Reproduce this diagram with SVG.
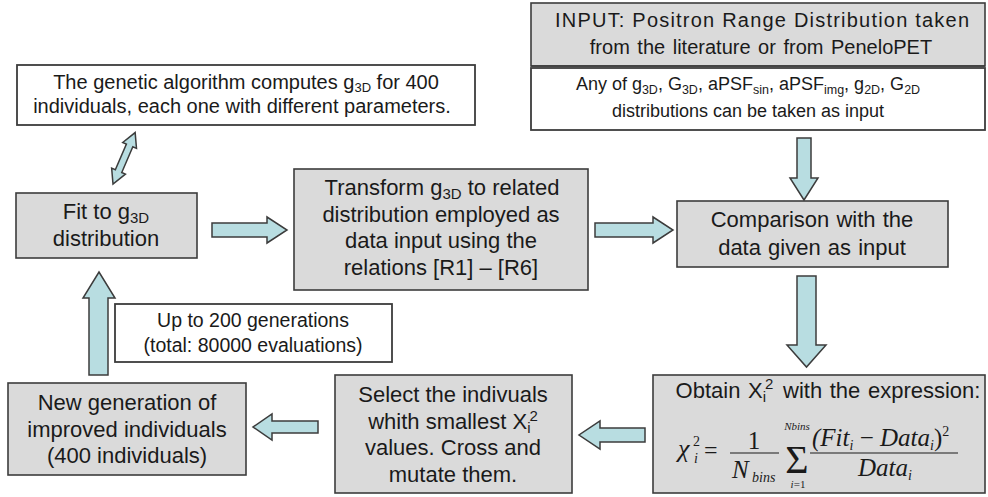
<svg xmlns="http://www.w3.org/2000/svg" width="988" height="497" viewBox="0 0 988 497">
  <style>
    .box { fill: #dadada; stroke: #3c3c3c; stroke-width: 1.6; }
    .wbox { fill: #ffffff; stroke: #3c3c3c; stroke-width: 1.8; }
    .arrow { fill: #b8dde1; stroke: #3c3c3c; stroke-width: 1.5; stroke-linejoin: miter; }
    .t { font-family: "Liberation Sans", Arial, sans-serif; fill: #1a1a1a; text-anchor: middle; }
    .t22 { font-size: 22px; }
    .t20 { font-size: 20px; }
    .t19 { font-size: 19.5px; }
    .t18 { font-size: 18px; }
    .m { font-family: "Liberation Serif", "Times New Roman", serif; fill: #1a1a1a; font-style: italic; }
    .mr { font-family: "Liberation Serif", "Times New Roman", serif; fill: #1a1a1a; }
  </style>

  <rect width="988" height="497" fill="#ffffff"/>

  <!-- connectors: block arrows -->
  <g id="connectors">
    <!-- two-way link between the fit step and the GA note -->
    <path class="arrow" transform="translate(113,184) rotate(-66.7)"
          d="M0,0 L14,-7.5 L14,-3.5 L42,-3.5 L42,-7.5 L56,0 L42,7.5 L42,3.5 L14,3.5 L14,7.5 Z"/>
    <!-- fit -> transform -->
    <path class="arrow" d="M212,223 H267 V217 L287,230 L267,243 V237 H212 Z"/>
    <!-- transform -> comparison -->
    <path class="arrow" d="M595,223 H653 V217 L673,230 L653,243 V237 H595 Z"/>
    <!-- input -> comparison -->
    <path class="arrow" d="M797,138 H811 V178 H818 L804,200 L790,178 H797 Z"/>
    <!-- comparison -> chi-square -->
    <path class="arrow" d="M797,276 H816 V345 H826 L806.5,367 L787,345 H797 Z"/>
    <!-- chi-square -> selection -->
    <path class="arrow" d="M645,428 H600 V421 L579,435 L600,449 V442 H645 Z"/>
    <!-- selection -> new generation -->
    <path class="arrow" d="M318,421 H272 V414 L253,427 L272,440 V433 H318 Z"/>
    <!-- new generation -> fit -->
    <path class="arrow" d="M89,375 V298 H83 L99,272 L115,298 H108 V375 Z"/>
  </g>

  <g id="ga-note">
    <rect class="wbox" x="17" y="65" width="458" height="60"/>
    <text class="t t20" x="246" y="89">The genetic algorithm computes g<tspan font-size="13" dy="3">3D</tspan><tspan dy="-3"> for 400</tspan></text>
    <text class="t t20" x="242" y="113">individuals, each one with different parameters.</text>
  </g>

  <g id="input">
    <rect class="box" x="531" y="3" width="454" height="63"/>
    <rect class="wbox" x="531" y="68" width="454" height="62"/>
    <line x1="531" y1="66" x2="985" y2="66" stroke="#3c3c3c" stroke-width="1.6"/>
    <text class="t t20" x="762" y="27" textLength="414" lengthAdjust="spacing">INPUT: Positron Range Distribution taken</text>
    <text class="t t20" x="761" y="54" word-spacing="2">from the literature or from PeneloPET</text>
    <text class="t t18" x="748" y="90">Any of g<tspan font-size="12.5" dy="4">3D</tspan><tspan dy="-4">, G</tspan><tspan font-size="12.5" dy="4">3D</tspan><tspan dy="-4">, aPSF</tspan><tspan font-size="12.5" dy="4">sin</tspan><tspan dy="-4">, aPSF</tspan><tspan font-size="12.5" dy="4">img</tspan><tspan dy="-4">, g</tspan><tspan font-size="12.5" dy="4">2D</tspan><tspan dy="-4">, G</tspan><tspan font-size="12.5" dy="4">2D</tspan></text>
    <text class="t t18" x="748" y="117">distributions can be taken as input</text>
  </g>

  <g id="fit">
    <rect class="box" x="16" y="193" width="181" height="65"/>
    <text class="t t22" x="106" y="219">Fit to g<tspan font-size="15" dy="4">3D</tspan></text>
    <text class="t t22" x="106" y="246">distribution</text>
  </g>

  <g id="transform">
    <rect class="box" x="294" y="169" width="294" height="121"/>
    <text class="t t22" x="442" y="195">Transform g<tspan font-size="15" dy="4">3D</tspan><tspan dy="-4"> to related</tspan></text>
    <text class="t t22" x="441" y="222">distribution employed as</text>
    <text class="t t22" x="441" y="248">data input using the</text>
    <text class="t t22" x="441" y="275">relations [R1] – [R6]</text>
  </g>

  <g id="comparison">
    <rect class="box" x="677" y="201" width="271" height="66"/>
    <text class="t t22" x="812" y="227" word-spacing="1">Comparison with the</text>
    <text class="t t22" x="812" y="255" word-spacing="1">data given as input</text>
  </g>

  <g id="chi-square">
    <rect class="box" x="653" y="375" width="332" height="118"/>
    <text class="t t22" x="828" y="398" word-spacing="1.5">Obtain X<tspan font-size="15" dy="4">i</tspan><tspan font-size="15" dx="-1" dy="-13">2</tspan><tspan dx="2" dy="9"> with the expression:</tspan></text>
    <!-- chi_i^2 = 1/N_bins * sum (Fit_i - Data_i)^2 / Data_i -->
    <text class="m" x="678" y="457" font-size="26">χ</text>
    <text class="mr" x="693" y="446" font-size="14">2</text>
    <text class="m" x="694" y="463" font-size="14">i</text>
    <text class="mr" x="704" y="458" font-size="24">=</text>
    <text class="mr" x="754" y="449" font-size="25" text-anchor="middle">1</text>
    <line x1="730" y1="453" x2="779" y2="453" stroke="#1a1a1a" stroke-width="1.2"/>
    <text class="m" x="732" y="478" font-size="25">N</text>
    <text class="m" x="752" y="482" font-size="14">bins</text>
    <text class="mr" x="797" y="473" font-size="40" text-anchor="middle">Σ</text>
    <text class="m" x="797" y="430" font-size="11" text-anchor="middle">Nbins</text>
    <text class="mr" x="798" y="488" font-size="11" text-anchor="middle"><tspan font-style="italic">i</tspan>=1</text>
    <text class="m" x="812" y="446" font-size="25">(Fit<tspan font-size="14" dy="4">i</tspan><tspan dy="-4" font-style="normal"> − </tspan>Data<tspan font-size="14" dy="4">i</tspan><tspan dy="-4" font-style="normal">)</tspan><tspan font-size="14" dy="-10" font-style="normal">2</tspan></text>
    <line x1="810" y1="453" x2="958" y2="453" stroke="#1a1a1a" stroke-width="1.2"/>
    <text class="m" x="858" y="476" font-size="25">Data<tspan font-size="14" dy="4">i</tspan></text>
  </g>

  <g id="selection">
    <rect class="box" x="335" y="375" width="237" height="118"/>
    <text class="t t22" x="453" y="402">Select the indivuals</text>
    <text class="t t22" x="453" y="429">whith smallest X<tspan font-size="15" dy="4">i</tspan><tspan font-size="15" dx="-1" dy="-12">2</tspan></text>
    <text class="t t22" x="453" y="455">values. Cross and</text>
    <text class="t t22" x="453" y="482">mutate them.</text>
  </g>

  <g id="new-generation">
    <rect class="box" x="8" y="383" width="238" height="92"/>
    <text class="t t22" x="127" y="410">New generation of</text>
    <text class="t t22" x="127" y="437">improved individuals</text>
    <text class="t t22" x="127" y="463">(400 individuals)</text>
  </g>

  <g id="generations-note">
    <rect class="wbox" x="115" y="304" width="277" height="58"/>
    <text class="t t19" x="253" y="327">Up to 200 generations</text>
    <text class="t t19" x="253" y="352">(total: 80000 evaluations)</text>
  </g>
</svg>
